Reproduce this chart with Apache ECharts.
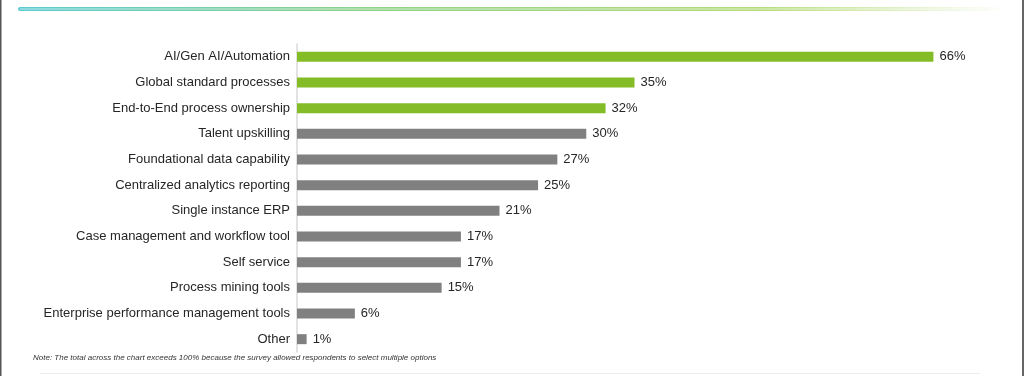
<!DOCTYPE html>
<html><head><meta charset="utf-8">
<script src="https://cdn.jsdelivr.net/npm/echarts@6/dist/echarts.min.js"></script>
<style>html,body{margin:0;padding:0;background:#fff}#c{width:1024px;height:376px}</style>
</head><body><div id="c"></div>
<script>
const categories = ["AI/Gen AI/Automation","Global standard processes","End-to-End process ownership","Talent upskilling","Foundational data capability","Centralized analytics reporting","Single instance ERP","Case management and workflow tool","Self service","Process mining tools","Enterprise performance management tools","Other"];
const values = [66,35,32,30,27,25,21,17,17,15,6,1];
const highlighted = [true,true,true,false,false,false,false,false,false,false,false,false];
const note = "Note: The total across the chart exceeds 100% because the survey allowed respondents to select multiple options";

const chart = echarts.init(document.getElementById('c'), null, {renderer:'canvas'});
chart.setOption({
  animation:false,
  backgroundColor:'#fff',
  grid:{left:297,top:44,width:675,height:308},
  xAxis:{type:'value',min:0,max:70,show:false},
  yAxis:{type:'category',inverse:true,data:categories,
    axisLine:{show:true,lineStyle:{color:'#d9d9d9',width:1.5}},
    axisTick:{show:false},
    axisLabel:{color:'#262626',fontFamily:'Liberation Sans, Arial, sans-serif',fontSize:13,margin:7}},
  series:[{type:'bar',barWidth:10,
    data:values.map((v,i)=>({value:v,itemStyle:{color:highlighted[i]?'#84bc27':'#808080'}})),
    label:{show:true,position:'right',distance:6,formatter:'{c}%',color:'#262626',fontFamily:'Liberation Sans, Arial, sans-serif',fontSize:13}}],
  graphic:[
    {type:'rect',shape:{x:0,y:0,width:1.5,height:376},style:{fill:'#555'}},
    {type:'rect',shape:{x:1022,y:0,width:2,height:376},style:{fill:'#666'}},
    {type:'rect',shape:{x:18,y:7,width:986,height:4,r:2},style:{fill:new echarts.graphic.LinearGradient(0,0,1,0,[{offset:0,color:'#5ccbd3'},{offset:0.35,color:'#8fd28a'},{offset:0.75,color:'#b5dc7a'},{offset:1,color:'#ffffff'}])}},
    {type:'rect',shape:{x:20,y:8.5,width:960,height:1},style:{fill:'rgba(255,255,255,0.6)'}},
    {type:'rect',shape:{x:40,y:373,width:940,height:1},style:{fill:'#ececec'}},
    {type:'text',left:33,top:354,style:{text:note,font:'italic 8px Liberation Sans, Arial, sans-serif',fill:'#333'}}
  ]
});
</script></body></html>
